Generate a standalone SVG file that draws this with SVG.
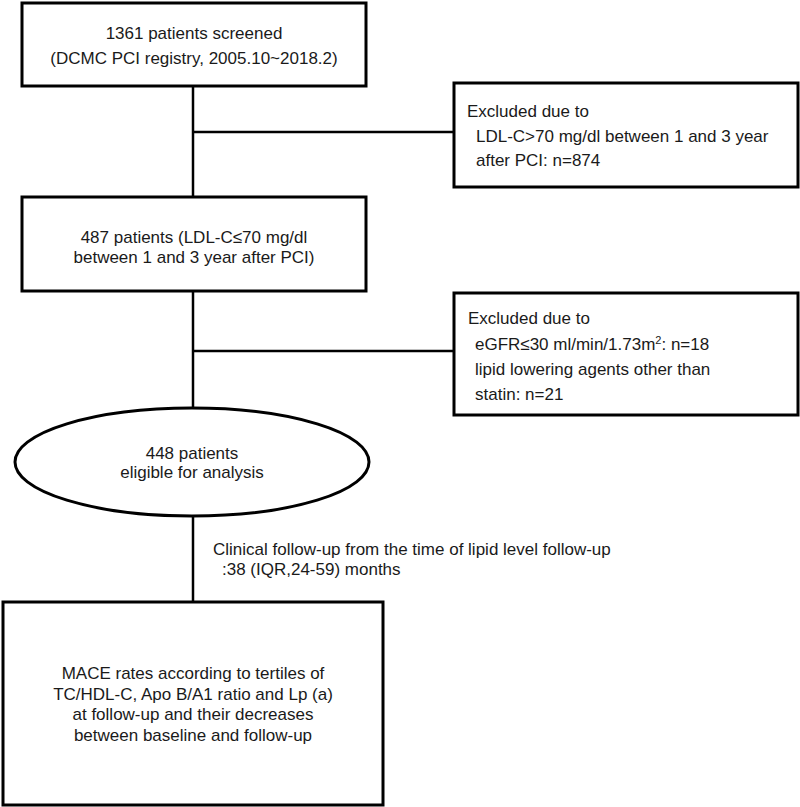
<svg xmlns="http://www.w3.org/2000/svg" width="800" height="807" viewBox="0 0 800 807">
<style>
.box{fill:#fff;stroke:#000;stroke-width:3}
.conn{fill:none;stroke:#000;stroke-width:2.5}
text{font-family:"Liberation Sans",Arial,sans-serif;font-size:17px;fill:#1a1a1a}
.c{text-anchor:middle}
</style>
<rect width="800" height="807" fill="#fff"/>
<g id="connectors">
<line class="conn" x1="193" y1="86" x2="193" y2="197"/>
<line class="conn" x1="193" y1="132" x2="454" y2="132"/>
<line class="conn" x1="193" y1="291" x2="193" y2="408"/>
<line class="conn" x1="193" y1="351" x2="454" y2="351"/>
<line class="conn" x1="193" y1="516" x2="193" y2="602"/>
</g>
<g id="screened">
<rect class="box" x="22" y="3" width="344" height="83"/>
<text class="c" x="194" y="39">1361 patients screened</text>
<text class="c" x="194" y="64">(DCMC PCI registry, 2005.10~2018.2)</text>
</g>
<g id="excluded1">
<rect class="box" x="454" y="83" width="344" height="104"/>
<text x="467" y="117">Excluded  due to</text>
<text x="476" y="142">LDL-C&gt;70 mg/dl  between  1 and  3 year</text>
<text x="476" y="166">after PCI: n=874</text>
</g>
<g id="patients487">
<rect class="box" x="22" y="197" width="344" height="94"/>
<text class="c" x="194" y="243">487 patients (LDL-C≤70 mg/dl</text>
<text class="c" x="194" y="263">between  1 and  3 year after PCI)</text>
</g>
<g id="excluded2">
<rect class="box" x="454" y="293" width="344" height="122"/>
<text x="468" y="324">Excluded  due to</text>
<text x="475" y="350">eGFR≤30 ml/min/1.73m<tspan font-size="11" dy="-6">2</tspan><tspan dy="6">:  n=18</tspan></text>
<text x="475" y="375">lipid  lowering  agents other than</text>
<text x="475" y="400">statin: n=21</text>
</g>
<g id="eligible">
<ellipse class="box" cx="192" cy="462" rx="177" ry="54"/>
<text class="c" x="192" y="459">448 patients</text>
<text class="c" x="192" y="478">eligible  for analysis</text>
</g>
<g id="followup-label">
<text x="213" y="555">Clinical  follow-up  from the time of lipid  level  follow-up</text>
<text x="222" y="575">:38 (IQR,24-59) months</text>
</g>
<g id="mace">
<rect class="box" x="3" y="602" width="380" height="203"/>
<text class="c" x="193" y="679">MACE rates according to tertiles of</text>
<text class="c" x="193" y="700">TC/HDL-C, Apo B/A1 ratio and Lp (a)</text>
<text class="c" x="193" y="720">at follow-up  and their decreases</text>
<text class="c" x="193" y="741">between  baseline and  follow-up</text>
</g>
</svg>
